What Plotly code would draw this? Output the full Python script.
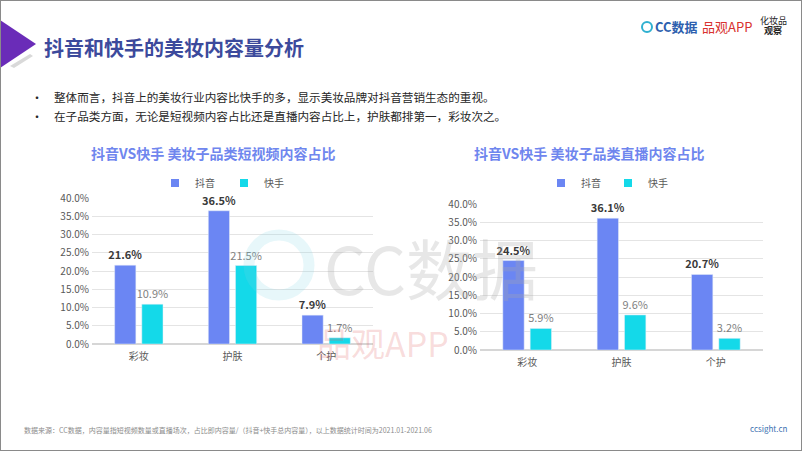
import plotly.graph_objects as go

categories = ["彩妆", "护肤", "个护"]
short_douyin = [21.6, 36.5, 7.9]
short_kuaishou = [10.9, 21.5, 1.7]
live_douyin = [24.5, 36.1, 20.7]
live_kuaishou = [5.9, 9.6, 3.2]
series_names = ["抖音", "快手"]
y_ticks = [0, 5, 10, 15, 20, 25, 30, 35, 40]
y_tick_labels = [f"{v:.1f}%" for v in y_ticks]

FONT = "Noto Sans CJK SC, Microsoft YaHei, sans-serif"
C_DY = "#6b86f3"
C_KS = "#14d9e9"
W, H = 802, 451

def px(x):
    return x / W

def py(y):
    return 1 - y / H

fig = go.Figure()

def add_pair(xa, ya, dy, ks, leg):
    fig.add_trace(go.Bar(
        x=categories, y=dy, name=series_names[0], marker_color=C_DY,
        xaxis=xa, yaxis=ya, text=[f"{v}%" for v in dy], textposition="outside",
        textfont=dict(size=11, color="#3a3a3a", family=FONT, weight="bold"),
        cliponaxis=False, showlegend=False, constraintext="none"))
    fig.add_trace(go.Bar(
        x=categories, y=ks, name=series_names[1], marker_color=C_KS,
        xaxis=xa, yaxis=ya, text=[f"{v}%" for v in ks], textposition="outside",
        textfont=dict(size=11, color="#7f7f7f", family=FONT),
        cliponaxis=False, showlegend=False, constraintext="none"))
    for nm, col in zip(series_names, [C_DY, C_KS]):
        fig.add_trace(go.Scatter(
            x=[None], y=[None], mode="markers", name=nm, legend=leg,
            marker=dict(symbol="square", size=8, color=col),
            xaxis=xa, yaxis=ya, showlegend=True))

add_pair("x", "y", short_douyin, short_kuaishou, "legend")
add_pair("x2", "y2", live_douyin, live_kuaishou, "legend2")

axis_common = dict(showline=False, ticks="", automargin=False, ticklabelstandoff=5,
                   tickfont=dict(size=10, color="#595959", family=FONT))
yaxis_common = dict(range=[0, 40], tickvals=y_ticks, ticktext=y_tick_labels, showgrid=True,
                    gridcolor="#e4e4e4", gridwidth=1, zeroline=True, zerolinecolor="#d6d6d6",
                    ticks="", ticklen=0, automargin=False, ticklabelstandoff=2,
                    tickfont=dict(size=10, color="#595959", family=FONT))

fig.update_layout(
    width=W, height=H, autosize=False, margin=dict(l=0, r=0, t=0, b=0, pad=0),
    paper_bgcolor="white", plot_bgcolor="white",
    barmode="group", bargap=0.42, bargroupgap=0.22,
    font=dict(family=FONT),
    xaxis=dict(domain=[px(92), px(373)], anchor="y", **axis_common),
    yaxis=dict(domain=[py(344), py(198)], anchor="x", **yaxis_common),
    xaxis2=dict(domain=[px(480), px(763)], anchor="y2", **axis_common),
    yaxis2=dict(domain=[py(350), py(204)], anchor="x2", **yaxis_common),
    legend=dict(orientation="h", x=px(155), y=py(183), xanchor="left", yanchor="middle",
                font=dict(size=10, color="#595959", family=FONT), entrywidth=24,
                bgcolor="rgba(0,0,0,0)", itemclick=False),
    legend2=dict(orientation="h", x=px(541), y=py(183), xanchor="left", yanchor="middle",
                 font=dict(size=10, color="#595959", family=FONT), entrywidth=22,
                 bgcolor="rgba(0,0,0,0)", itemclick=False),
)

ann = []
def text(x, y, t, size, color, xanchor="left", bold=False, opacity=1.0):
    ann.append(dict(x=px(x), y=py(y), xref="paper", yref="paper", text=t, showarrow=False,
                    xanchor=xanchor, yanchor="middle", opacity=opacity,
                    font=dict(size=size, color=color, family=FONT, weight="bold" if bold else "normal")))

# watermark
text(431, 266, "CC数据", 66, "rgba(170,170,170,0.28)", xanchor="center")
text(383, 342, "品观APP", 34, "rgba(225,100,100,0.22)", xanchor="center")

# header
text(42, 47, "抖音和快手的美妆内容量分析", 20, "#3c4a9c", bold=True)
text(37, 97, "•", 12, "#262626", xanchor="center")
text(37, 116, "•", 12, "#262626", xanchor="center")
text(52, 97, "整体而言，抖音上的美妆行业内容比快手的多，显示美妆品牌对抖音营销生态的重视。", 11.6, "#262626")
text(52, 116, "在子品类方面，无论是短视频内容占比还是直播内容占比上，护肤都排第一，彩妆次之。", 11.6, "#262626")

# chart titles
text(213, 153, "抖音VS快手 美妆子品类短视频内容占比", 14, "#6f86ee", xanchor="center", bold=True)
text(589, 153, "抖音VS快手 美妆子品类直播内容占比", 14, "#6f86ee", xanchor="center", bold=True)

# logos
text(653, 27, "CC数据", 13, "#2d5fae", bold=True)
text(700, 27, "品观APP", 13, "#d8322e")
text(773, 21, "化妆品", 9, "#222222", xanchor="center")
text(773, 31, "观察", 9, "#222222", xanchor="center", bold=True)

# footer
text(22, 430, "数据来源：CC数据，内容量指短视频数量或直播场次，占比即内容量/（抖音+快手总内容量），以上数据统计时间为2021.01-2021.06", 7, "#8c8c8c")
text(790, 428, "ccsight.cn", 8, "#3a6fb0", xanchor="right")

fig.update_layout(annotations=ann)

shapes = [
    dict(type="path", xref="paper", yref="paper",
         path=f"M {px(0)} {py(20)} L {px(36)} {py(44)} L {px(0)} {py(68)} Z",
         fillcolor="#6a2cb8", line=dict(width=0)),
    dict(type="path", xref="paper", yref="paper",
         path=f"M {px(10)} {py(66)} L {px(30)} {py(54)} L {px(33)} {py(56)} L {px(14)} {py(68)} Z",
         fillcolor="#d9d9d9", line=dict(width=0), layer="below"),
    dict(type="circle", xref="paper", yref="paper", x0=px(249), x1=px(309), y0=py(295), y1=py(235),
         line=dict(color="rgba(120,210,225,0.18)", width=11)),
    dict(type="rect", xref="paper", yref="paper", x0=0, x1=1, y0=0, y1=1,
         line=dict(color="#8a8a8a", width=2)),
    dict(type="circle", xref="paper", yref="paper", x0=px(642), x1=px(652), y0=py(32), y1=py(22),
         line=dict(color="#2fb0d0", width=2)),
]
fig.update_layout(shapes=shapes)

fig.write_html("out.html", config={"displayModeBar": False, "responsive": False},
               post_script="document.body.style.margin='0';document.body.style.overflow='hidden';")
